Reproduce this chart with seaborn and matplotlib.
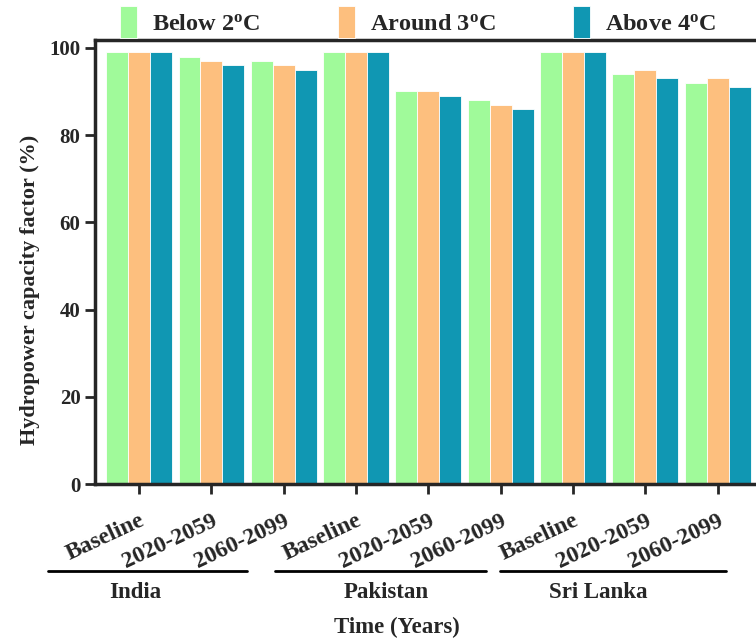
import pandas as pd
import seaborn as sns
import matplotlib.pyplot as plt
import matplotlib.transforms as mtransforms

countries = ['India', 'Pakistan', 'Sri Lanka']
periods = ['Baseline', '2020-2059', '2060-2099']
scenarios = ['Below 2$^{o}$C', 'Around 3$^{o}$C', 'Above 4$^{o}$C']

below_2 = [99, 98, 97, 99, 90, 88, 99, 94, 92]
around_3 = [99, 97, 96, 99, 90, 87, 99, 95, 93]
above_4 = [99, 96, 95, 99, 89, 86, 99, 93, 91]

colors = ['#a0fa9a', '#fdbf7e', '#1097b3']

# tabel i langt format til seaborn
keys = [c + ' ' + p for c in countries for p in periods]
df = pd.DataFrame({
    'key': keys * 3,
    'scenario': [scenarios[0]] * 9 + [scenarios[1]] * 9 + [scenarios[2]] * 9,
    'value': below_2 + around_3 + above_4,
})

sns.set_style('ticks')
plt.rcParams['font.family'] = ['Liberation Serif']
plt.rcParams['font.weight'] = 'bold'
plt.rcParams['mathtext.fontset'] = 'custom'
plt.rcParams['mathtext.rm'] = 'Liberation Serif:bold'
plt.rcParams['mathtext.default'] = 'rm'

fig = plt.figure(figsize=(7.56, 6.39), dpi=100)
ax = fig.add_axes([95 / 756, 1 - 484 / 639, (756 - 95) / 756, (484 - 40) / 639])

sns.barplot(data=df, x='key', y='value', hue='scenario', order=keys,
            hue_order=scenarios, palette=colors, width=0.91, saturation=1,
            edgecolor='white', linewidth=0.6, ax=ax)

ax.set_xlim(-0.61, 8.53)
ax.set_ylim(0, 101.8)
ax.set_yticks([0, 20, 40, 60, 80, 100])
ax.set_xticks(range(9))
ax.set_xticklabels(periods * 3, rotation=25, ha='right', rotation_mode='anchor')
ax.tick_params(axis='both', direction='out', length=7, width=2, labelsize=15)
ax.tick_params(axis='x', pad=12, labelsize=17)
ax.spines['right'].set_visible(False)
for s in ['left', 'bottom', 'top']:
    ax.spines[s].set_linewidth(2.5)

ax.set_ylabel('Hydropower capacity factor (%)', fontsize=16, fontweight='bold')
ax.yaxis.set_label_coords(-0.083, 0.437)
ax.set_xlabel('Time (Years)', fontsize=16.5, fontweight='bold')
ax.xaxis.set_label_coords(0.457, -0.30)

# landegrupper under akserne
trans = mtransforms.blended_transform_factory(ax.transData, ax.transAxes)
line_spans = [(-1.26, 1.49), (1.88, 4.79), (4.99, 8.12)]
label_x = [-0.06, 3.42, 6.35]
for c, (x0, x1), lx in zip(countries, line_spans, label_x):
    ax.plot([x0, x1], [-0.196, -0.196], color='black', lw=2, transform=trans, clip_on=False)
    ax.text(lx, -0.245, c, transform=trans, ha='center', va='center', fontsize=16.5, fontweight='bold')

leg = ax.legend(loc='lower left', bbox_to_anchor=(0.02, 0.978), ncol=3, frameon=False,
                fontsize=17.5, handlelength=0.7, handleheight=1.6, columnspacing=3.2,
                handletextpad=0.6, borderaxespad=0.1)

plt.savefig('out.png', dpi=100)
